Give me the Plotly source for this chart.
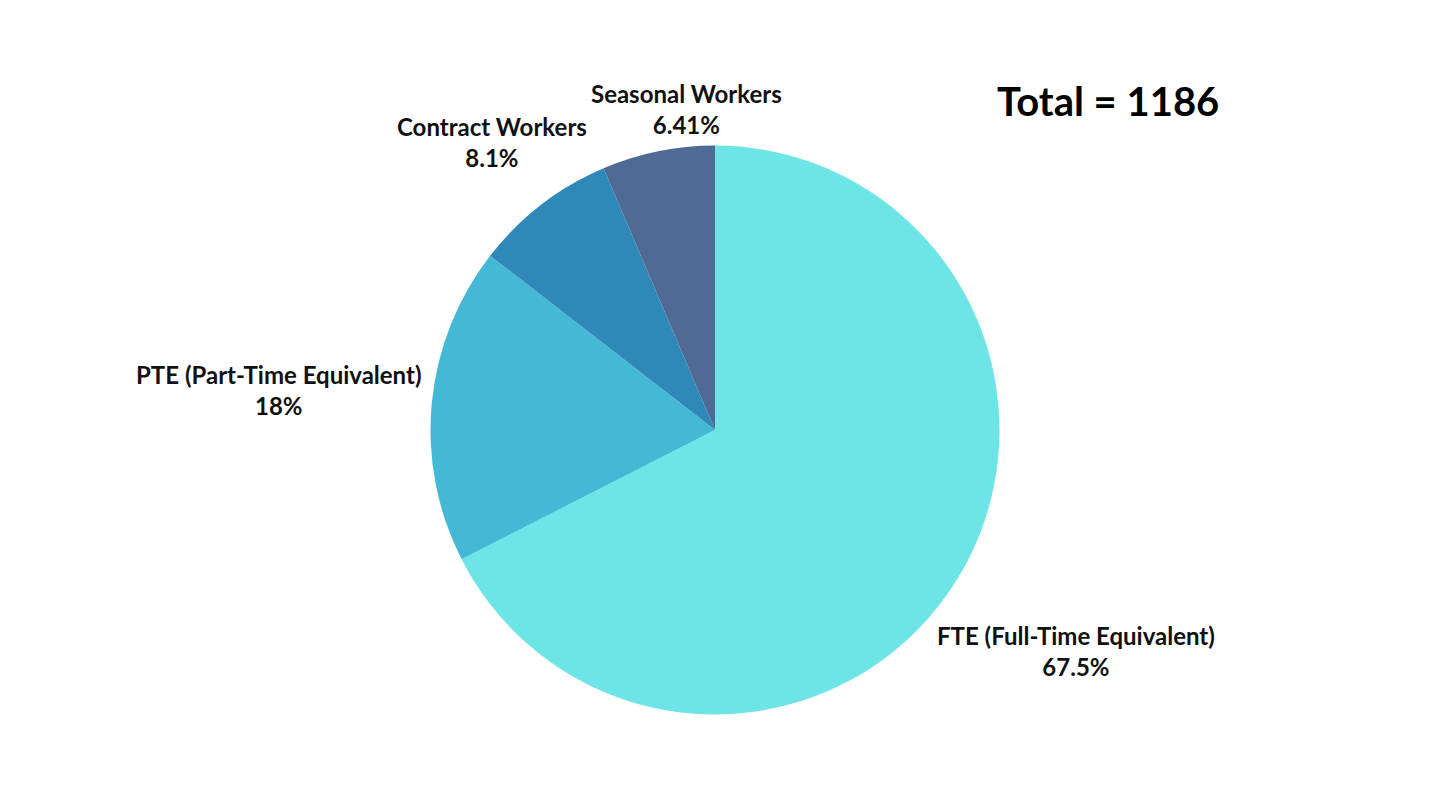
import plotly.graph_objects as go

labels = ["FTE (Full-Time Equivalent)", "PTE (Part-Time Equivalent)", "Contract Workers", "Seasonal Workers"]
percents = [67.5, 18, 8.1, 6.41]
pct_text = ["67.5%", "18%", "8.1%", "6.41%"]
colors = ["#6de5e6", "#44b9d6", "#2e89b9", "#506a96"]
total_label = "Total = 1186"

W, H = 1430, 805
OFF = 8  # page body margin offset
FONT = "Lato"

def fx(px):
    return (px - OFF) / W

def fy(py):
    return 1 - (py - OFF) / H

fig = go.Figure(go.Pie(
    labels=labels,
    values=percents,
    sort=False,
    direction="clockwise",
    rotation=0,
    textinfo="none",
    marker=dict(colors=colors, line=dict(width=0)),
    domain=dict(x=[0, fx(715) * 2], y=[fy(714.5), fy(145.5)]),
    showlegend=False,
))

# label anchor positions (pixel centres of each two-line label block)
label_px = [(1076, 651), (278, 390), (492, 142), (686, 109)]
for lab, txt, (px, py) in zip(labels, pct_text, label_px):
    fig.add_annotation(
        x=fx(px), y=fy(py), xref="paper", yref="paper",
        text=f"<b>{lab}</b><br><b>{txt}</b>",
        showarrow=False, xanchor="center", yanchor="middle",
        font=dict(family=FONT, size=24, color="#111111"),
        align="center",
    )

fig.add_annotation(
    x=fx(1108), y=fy(101), xref="paper", yref="paper",
    text=f"<b>{total_label}</b>", showarrow=False,
    xanchor="center", yanchor="middle",
    font=dict(family=FONT, size=40, color="#000000"),
)

fig.update_layout(
    width=W, height=H,
    margin=dict(l=0, r=0, t=0, b=0),
    paper_bgcolor="white", plot_bgcolor="white",
)

fig.write_html("out.html")
